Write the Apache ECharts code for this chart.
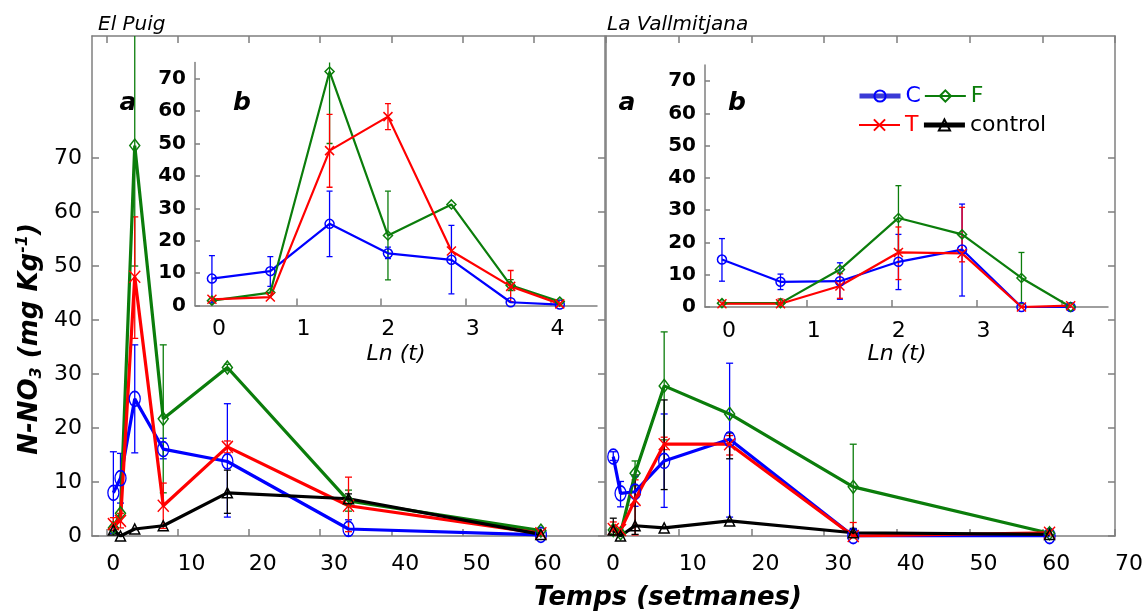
<!DOCTYPE html>
<html>
<head>
<meta charset="utf-8">
<script src="https://cdn.jsdelivr.net/npm/echarts@6/dist/echarts.min.js"></script>
<style>
  html, body { margin: 0; padding: 0; background: #fff; }
  #chart { width: 1146px; height: 613px; }
</style>
</head>
<body>
<div id="chart"></div>
<script>
// sampling times (weeks) and ln(t) positions
const weeks = [1, 2, 4, 8, 17, 34, 61];
const lnWeeks = [0, 0.69, 1.39, 2.08, 2.83, 3.53, 4.11];
const weekTicks = [0, 10, 20, 30, 40, 50, 60];
const weekTicksRight = [0, 10, 20, 30, 40, 50, 60, 70];
const lnTicks = [0, 1, 2, 3, 4];
const valueTicks = [0, 10, 20, 30, 40, 50, 60, 70];

// El Puig - main panel (a)
const puigC = [8.0, 10.7, 25.4, 16.1, 13.8, 1.3, 0.2];
const puigF = [1.5, 4.2, 72.3, 21.7, 31.2, 6.5, 1.0];
const puigT = [2.2, 2.8, 48.0, 5.6, 16.5, 5.6, 0.5];
const puigCtl = [1.1, 0.0, 1.3, 1.9, 8.0, 6.9, 0.3];
const puigCErr = [[0.5, 15.6], [6.1, 15.3], [15.4, 35.4], [14.3, 18.1], [3.5, 24.5], [0, 3.0], null];
const puigFErr = [null, null, [50, 95], [8, 35.4], [30.6, 31.8], [4.6, 8.5], null];
const puigTErr = [[1.0, 3.4], [1.5, 4.2], [36.6, 59.1], [1.4, 9.8], [15.4, 17.6], [0.8, 10.9], null];
const puigCtlErr = [null, null, null, null, [4.2, 12.2], [6.0, 7.8], null];

// El Puig - inset (b)
const puigInsC = [8.3, 10.6, 25.2, 16.1, 14.1, 1.0, 0.3];
const puigInsF = [1.5, 4.0, 72.2, 21.6, 31.2, 6.2, 1.2];
const puigInsT = [1.9, 2.6, 47.8, 58.3, 16.8, 5.9, 0.5];
const puigInsCErr = [[0.8, 15.4], [5.9, 15.1], [15.1, 35.3], [14.5, 18.0], [3.6, 24.7], null, null];
const puigInsFErr = [null, null, [50, 95], [7.9, 35.3], null, [4.6, 8.0], null];
const puigInsTErr = [null, null, [36.5, 59.0], [54.3, 62.3], null, [1.2, 10.8], null];

// La Vallmitjana - main panel (a)
const valC = [14.7, 7.9, 8.2, 13.9, 17.9, 0.0, 0.0];
const valF = [1.1, 0.5, 11.6, 27.8, 22.6, 9.1, 0.5];
const valT = [1.3, 1.1, 6.7, 17.0, 17.0, 0.0, 0.6];
const valCtl = [1.1, 0.0, 1.9, 1.5, 2.8, 0.6, 0.3];
const valCErr = [[14.0, 15.6], [5.4, 10.1], [5.5, 11.0], [5.3, 22.6], [3.5, 32.0], null, null];
const valFErr = [null, null, [9.3, 13.9], [17.8, 37.8], null, [1.2, 17.0], null];
const valTErr = [[0.2, 2.6], null, [0.2, 10.4], [16.0, 18.3], [15.0, 18.6], [0, 2.5], null];
const valCtlErr = [[0.2, 3.3], null, [0.3, 11.3], [8.6, 25.2], [14.3, 19.1], [0, 1.4], null];

// La Vallmitjana - inset (b)
const valInsC = [14.7, 7.8, 8.0, 14.0, 17.8, 0.0, 0.0];
const valInsF = [1.2, 1.2, 11.6, 27.6, 22.5, 9.0, 0.0];
const valInsT = [1.0, 1.0, 6.5, 16.9, 16.6, 0.0, 0.4];
const valInsCErr = [[8.0, 21.2], [5.4, 10.2], [2.4, 13.7], [5.4, 22.5], [3.4, 31.9], null, null];
const valInsFErr = [null, null, null, [17.6, 37.6], null, [1.0, 16.9], null];
const valInsTErr = [null, [0, 2.5], [2.7, 10.3], [8.5, 24.8], [14.0, 30.9], null, null];

const BLUE = '#0000ff', RED = '#ff0000', GREEN = '#0b7d0b', BLACK = '#000000';
const AXIS = '#7f7f7f';
const FONT = '"DejaVu Sans", Verdana, sans-serif';
const CROSS = 'path://M0 0L10 10M10 0L0 10';
const HOLLOW = 'rgba(255,255,255,0)';

const chart = echarts.init(document.getElementById('chart'));

function axis(opts) {
  const a = {
    type: 'value',
    gridIndex: opts.grid,
    position: opts.position,
    min: opts.min,
    max: opts.max,
    axisLine: { show: true, onZero: false, lineStyle: { color: AXIS, width: 1.5 } },
    axisTick: { show: !!opts.ticks, inside: true, length: opts.tickLen || 7, lineStyle: { color: AXIS, width: 1.5 } },
    axisLabel: { show: !!opts.labels, color: '#000', fontFamily: FONT, fontSize: opts.fontSize || 22, fontWeight: opts.bold ? 'bold' : 'normal', margin: opts.margin || 10 },
    splitLine: { show: false }
  };
  if (opts.ticks) a.axisTick.customValues = opts.ticks;
  if (opts.labels) a.axisLabel.customValues = opts.labels;
  if (opts.alignLeft) a.axisLabel.align = 'left';
  return a;
}

// hollow markers: transparent fill, coloured outline
function line(name, color, symbol, size, width, ax, xs, ys) {
  return {
    name: name, type: 'line', xAxisIndex: ax, yAxisIndex: ax,
    data: xs.map((x, i) => [x, ys[i]]),
    symbol: symbol, symbolSize: size, showAllSymbol: true,
    lineStyle: { color: color, width: width },
    itemStyle: { color: HOLLOW, borderColor: color, borderWidth: 1.5 },
    clip: true, z: 3
  };
}

function errBars(color, ax, xs, errs, cap) {
  const data = [];
  errs.forEach((e, i) => { if (e) data.push([xs[i], e[0], e[1]]); });
  return {
    type: 'custom', xAxisIndex: ax, yAxisIndex: ax, data: data, clip: true, silent: true, z: 2,
    itemStyle: { color: color },
    encode: { x: 0, y: [1, 2] },
    renderItem: function (params, api) {
      const lo = api.coord([api.value(0), api.value(1)]);
      const hi = api.coord([api.value(0), api.value(2)]);
      const st = { stroke: api.visual('color'), lineWidth: 1.3 };
      return {
        type: 'group', children: [
          { type: 'line', shape: { x1: lo[0], y1: lo[1], x2: hi[0], y2: hi[1] }, style: st },
          { type: 'line', shape: { x1: lo[0] - cap, y1: lo[1], x2: lo[0] + cap, y2: lo[1] }, style: st },
          { type: 'line', shape: { x1: hi[0] - cap, y1: hi[1], x2: hi[0] + cap, y2: hi[1] }, style: st }
        ]
      };
    }
  };
}

function text(str, x, y, size, weight, style, align) {
  return {
    type: 'text', x: x, y: y,
    style: { text: str, fill: '#000', fontFamily: FONT, fontSize: size, fontWeight: weight, fontStyle: style, textAlign: align || 'center', textVerticalAlign: 'middle' }
  };
}

const series = [
  // El Puig main
  line('C', BLUE, 'circle', [11, 15], 3.2, 0, weeks, puigC),
  line('F', GREEN, 'diamond', [10, 13], 3.2, 0, weeks, puigF),
  line('T', RED, CROSS, [11, 12], 3.2, 0, weeks, puigT),
  line('control', BLACK, 'triangle', 10, 3.2, 0, weeks, puigCtl),
  errBars(BLUE, 0, weeks, puigCErr, 3.5),
  errBars(GREEN, 0, weeks, puigFErr, 3.5),
  errBars(RED, 0, weeks, puigTErr, 3.5),
  errBars(BLACK, 0, weeks, puigCtlErr, 3.5),
  // La Vallmitjana main
  line('C', BLUE, 'circle', [11, 15], 3.2, 2, weeks, valC),
  line('F', GREEN, 'diamond', [10, 13], 3.2, 2, weeks, valF),
  line('T', RED, CROSS, [11, 12], 3.2, 2, weeks, valT),
  line('control', BLACK, 'triangle', 10, 3.2, 2, weeks, valCtl),
  errBars(BLUE, 2, weeks, valCErr, 3.5),
  errBars(GREEN, 2, weeks, valFErr, 3.5),
  errBars(RED, 2, weeks, valTErr, 3.5),
  errBars(BLACK, 2, weeks, valCtlErr, 3.5),
  // El Puig inset
  line('C', BLUE, 'circle', 9, 2.2, 4, lnWeeks, puigInsC),
  line('F', GREEN, 'diamond', 9, 2.2, 4, lnWeeks, puigInsF),
  line('T', RED, CROSS, 9, 2.2, 4, lnWeeks, puigInsT),
  errBars(BLUE, 4, lnWeeks, puigInsCErr, 3),
  errBars(GREEN, 4, lnWeeks, puigInsFErr, 3),
  errBars(RED, 4, lnWeeks, puigInsTErr, 3),
  // La Vallmitjana inset
  line('C', BLUE, 'circle', 9, 2.2, 5, lnWeeks, valInsC),
  line('F', GREEN, 'diamond', 9, 2.2, 5, lnWeeks, valInsF),
  line('T', RED, CROSS, 9, 2.2, 5, lnWeeks, valInsT),
  errBars(BLUE, 5, lnWeeks, valInsCErr, 3),
  errBars(GREEN, 5, lnWeeks, valInsFErr, 3),
  errBars(RED, 5, lnWeeks, valInsTErr, 3)
];

const legendBase = {
  orient: 'horizontal', itemWidth: 41, itemHeight: 14, itemGap: 3, selectedMode: false,
  textStyle: { fontFamily: FONT, fontSize: 22 }, padding: 0
};

chart.setOption({
  animation: false,
  backgroundColor: '#fff',
  grid: [
    { left: 92, top: 36, width: 513, height: 500 },
    { left: 606, top: 36, width: 514, height: 500 },
    { left: 195, top: 62.5, width: 402, height: 243 },
    { left: 705, top: 65, width: 403, height: 242 }
  ],
  xAxis: [
    axis({ grid: 0, position: 'bottom', min: -2, max: 70, ticks: weekTicks, labels: weekTicks, alignLeft: true, margin: 17 }),
    axis({ grid: 0, position: 'top', min: -2, max: 70, ticks: weekTicks }),
    axis({ grid: 1, position: 'bottom', min: 0, max: 70, ticks: weekTicksRight, labels: weekTicksRight, alignLeft: true, margin: 17 }),
    axis({ grid: 1, position: 'top', min: 0, max: 70, ticks: weekTicksRight }),
    axis({ grid: 2, position: 'bottom', min: -0.2, max: 4.55, ticks: lnTicks, labels: lnTicks, alignLeft: true, margin: 13 }),
    axis({ grid: 3, position: 'bottom', min: -0.2, max: 4.55, ticks: lnTicks, labels: lnTicks, alignLeft: true, margin: 13 })
  ],
  yAxis: [
    axis({ grid: 0, position: 'left', min: 0, max: 92.6, ticks: valueTicks, labels: valueTicks }),
    axis({ grid: 0, position: 'right', min: 0, max: 92.6, ticks: valueTicks }),
    axis({ grid: 1, position: 'left', min: 0, max: 92.6 }),
    axis({ grid: 1, position: 'right', min: 0, max: 92.6, ticks: valueTicks }),
    axis({ grid: 2, position: 'left', min: 0, max: 75, ticks: valueTicks, labels: valueTicks, fontSize: 20, bold: true, tickLen: 5, margin: 9 }),
    axis({ grid: 3, position: 'left', min: 0, max: 75, ticks: valueTicks, labels: valueTicks, fontSize: 20, bold: true, tickLen: 5, margin: 9 })
  ],
  legend: [
    Object.assign({}, legendBase, {
      left: 857, top: 85,
      data: [
        { name: 'C', textStyle: { color: BLUE }, lineStyle: { width: 5, color: '#3a3ad6' } },
        { name: 'F', textStyle: { color: GREEN } }
      ]
    }),
    Object.assign({}, legendBase, {
      left: 858, top: 114,
      data: [
        { name: 'T', textStyle: { color: RED } },
        { name: 'control', textStyle: { color: BLACK }, lineStyle: { width: 5 } }
      ]
    })
  ],
  graphic: [
    text('El Puig', 98, 25, 20, 'normal', 'italic', 'left'),
    text('La Vallmitjana', 607, 25, 20, 'normal', 'italic', 'left'),
    text('a', 128, 103, 25, 'bold', 'italic'),
    text('b', 242, 103, 25, 'bold', 'italic'),
    text('a', 627, 103, 25, 'bold', 'italic'),
    text('b', 737, 103, 25, 'bold', 'italic'),
    text('Ln (t)', 396, 354, 22, 'normal', 'italic'),
    text('Ln (t)', 897, 354, 22, 'normal', 'italic'),
    text('Temps (setmanes)', 668, 598, 26, 'bold', 'italic'),
    {
      type: 'text', x: 30, y: 339, rotation: Math.PI / 2,
      style: {
        text: '{b|N-NO}{s|3}{b| (mg Kg}{p|-1}{b|)}',
        fill: '#000', textAlign: 'center', textVerticalAlign: 'middle',
        rich: {
          b: { fontFamily: FONT, fontSize: 26, fontWeight: 'bold', fontStyle: 'italic', lineHeight: 30, verticalAlign: 'middle' },
          s: { fontFamily: FONT, fontSize: 16, fontWeight: 'bold', fontStyle: 'italic', lineHeight: 16, verticalAlign: 'bottom' },
          p: { fontFamily: FONT, fontSize: 16, fontWeight: 'bold', fontStyle: 'italic', lineHeight: 16, verticalAlign: 'top' }
        }
      }
    }
  ],
  series: series
});
</script>
</body>
</html>
